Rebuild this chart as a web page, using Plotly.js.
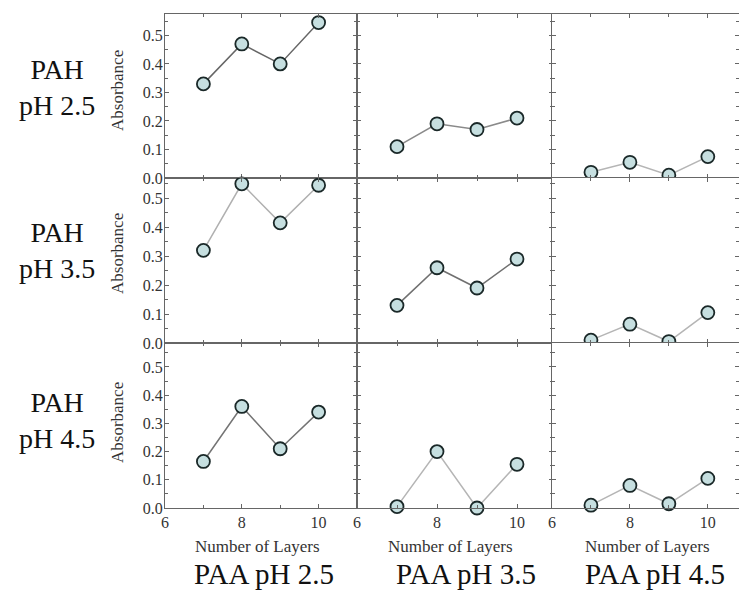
<!DOCTYPE html>
<html>
<head>
<meta charset="utf-8">
<script src="https://cdn.plot.ly/plotly-3.0.1.min.js"></script>
<style>html,body{margin:0;padding:0;background:#fff;}#chart{width:739px;height:590px;}</style>
</head>
<body>
<div id="chart"></div>
<script>
// ---- data ----
var layers = [7, 8, 9, 10];
var rowLabels = ["PAH<br>pH 2.5", "PAH<br>pH 3.5", "PAH<br>pH 4.5"];
var colLabels = ["PAA pH 2.5", "PAA pH 3.5", "PAA pH 4.5"];
var xTickVals = [6, 8, 10];
var xTickText = ["6", "8", "10"];
var yTickVals = [0, 0.1, 0.2, 0.3, 0.4, 0.5];
var yTickText = ["0.0", "0.1", "0.2", "0.3", "0.4", "0.5"];
// absorbance, rows = PAH pH, cols = PAA pH
var pah25_paa25 = [0.33, 0.47, 0.40, 0.545];
var pah25_paa35 = [0.11, 0.19, 0.17, 0.21];
var pah25_paa45 = [0.02, 0.055, 0.01, 0.075];
var pah35_paa25 = [0.32, 0.55, 0.415, 0.545];
var pah35_paa35 = [0.13, 0.26, 0.19, 0.29];
var pah35_paa45 = [0.01, 0.065, 0.005, 0.105];
var pah45_paa25 = [0.165, 0.36, 0.21, 0.34];
var pah45_paa35 = [0.005, 0.20, 0.0, 0.155];
var pah45_paa45 = [0.01, 0.08, 0.015, 0.105];

var grid = [
  [pah25_paa25, pah25_paa35, pah25_paa45],
  [pah35_paa25, pah35_paa35, pah35_paa45],
  [pah45_paa25, pah45_paa35, pah45_paa45]
];

// ---- styling / layout ----
var W = 739, H = 590;
var serif = "Liberation Serif";
var colPx = [[165, 357], [357, 553], [552, 739]];
var colRange = [[6, 11], [6, 10.9], [6, 10.8]];
var rowPx = [[14, 178], [178, 343], [343, 508]];
var rowRange = [[0, 0.575], [0, 0.57], [0, 0.585]];
var lineColors = [
  ["#666666", "#8a8a8a", "#b5b5b5"],
  ["#b0b0b0", "#707070", "#b5b5b5"],
  ["#747474", "#b5b5b5", "#b5b5b5"]
];
var axisColor = "#666666";

var traces = [];
var layout = {
  width: W, height: H,
  margin: {l: 0, r: 0, t: 0, b: 0},
  paper_bgcolor: "#ffffff",
  plot_bgcolor: "#ffffff",
  showlegend: false,
  font: {family: serif, color: "#333333"},
  annotations: []
};

for (var r = 0; r < 3; r++) {
  for (var c = 0; c < 3; c++) {
    var i = r * 3 + c + 1;
    var xid = i === 1 ? "x" : "x" + i;
    var yid = i === 1 ? "y" : "y" + i;
    var xkey = i === 1 ? "xaxis" : "xaxis" + i;
    var ykey = i === 1 ? "yaxis" : "yaxis" + i;
    traces.push({
      x: layers, y: grid[r][c], xaxis: xid, yaxis: yid,
      type: "scatter", mode: "lines+markers", cliponaxis: false,
      line: {color: lineColors[r][c], width: 1.5},
      marker: {size: 13, color: "#c6dfe0", line: {color: "#1a2828", width: 1.8}}
    });
    layout[xkey] = {
      domain: [colPx[c][0] / W, colPx[c][1] / W],
      range: colRange[c], anchor: yid,
      showgrid: false, zeroline: false,
      showline: true, linecolor: axisColor, linewidth: 1, mirror: "ticks",
      ticks: "inside", ticklen: 4, tickcolor: axisColor,
      tickvals: xTickVals, ticktext: xTickText,
      showticklabels: r === 2,
      tickfont: {family: serif, size: 16, color: "#333333"},
      minor: {tickvals: [7, 9], ticks: "inside", ticklen: 3, tickcolor: axisColor},
      fixedrange: true
    };
    layout[ykey] = {
      domain: [1 - rowPx[r][1] / H, 1 - rowPx[r][0] / H],
      range: rowRange[r], anchor: xid,
      showgrid: false, zeroline: false,
      showline: true, linecolor: axisColor, linewidth: 1, mirror: "ticks",
      ticks: "inside", ticklen: 4, tickcolor: axisColor,
      tickvals: yTickVals, ticktext: yTickText,
      showticklabels: c === 0,
      ticklabelstandoff: -2,
      tickfont: {family: serif, size: 16, color: "#333333"},
      minor: {tickvals: [0.05, 0.15, 0.25, 0.35, 0.45, 0.55], ticks: "inside", ticklen: 3, tickcolor: axisColor},
      fixedrange: true
    };
  }
}

var rowCenters = [87, 250, 420];
var absCenters = [90, 253, 422];
for (var r2 = 0; r2 < 3; r2++) {
  layout.annotations.push({
    xref: "paper", yref: "paper", x: 57 / W, y: 1 - rowCenters[r2] / H,
    xanchor: "center", yanchor: "middle", showarrow: false,
    text: rowLabels[r2], font: {family: serif, size: 28, color: "#111111"}
  });
  layout.annotations.push({
    xref: "paper", yref: "paper", x: 117 / W, y: 1 - absCenters[r2] / H,
    xanchor: "center", yanchor: "middle", showarrow: false, textangle: -90,
    text: "Absorbance", font: {family: serif, size: 17, color: "#333333"}
  });
}
var nolCenters = [257, 451, 647];
var paaCenters = [264, 466, 655];
for (var c2 = 0; c2 < 3; c2++) {
  layout.annotations.push({
    xref: "paper", yref: "paper", x: nolCenters[c2] / W, y: 1 - 546 / H,
    xanchor: "center", yanchor: "middle", showarrow: false,
    text: "Number of Layers", font: {family: serif, size: 17, color: "#333333"}
  });
  layout.annotations.push({
    xref: "paper", yref: "paper", x: paaCenters[c2] / W, y: 1 - 574 / H,
    xanchor: "center", yanchor: "middle", showarrow: false,
    text: colLabels[c2], font: {family: serif, size: 29, color: "#111111"}
  });
}

Plotly.newPlot("chart", traces, layout, {displayModeBar: false, staticPlot: true});
</script>
</body>
</html>
